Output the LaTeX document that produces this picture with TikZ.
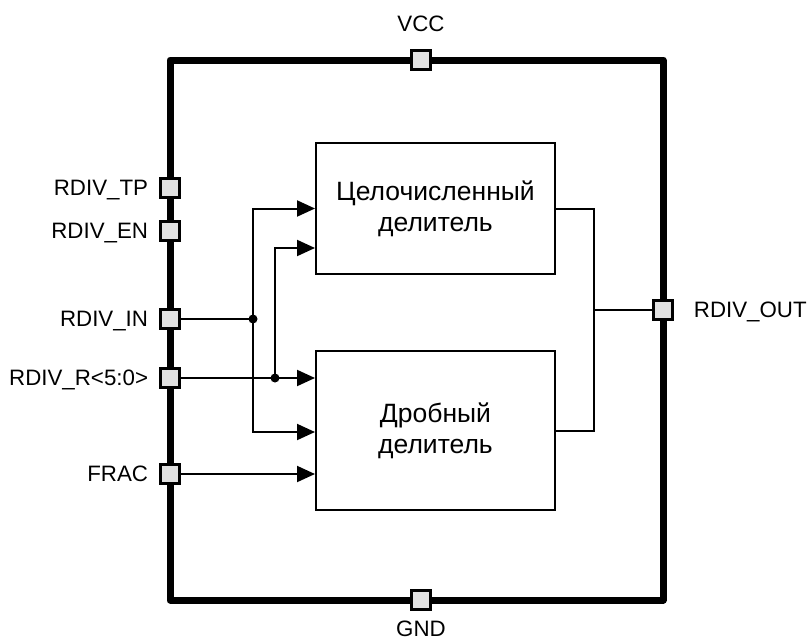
\documentclass[tikz,border=0pt]{standalone}
\usepackage{fontspec}
\setmainfont{Liberation Sans}
\usetikzlibrary{arrows.meta,positioning}
\definecolor{padgray}{HTML}{E0E0E0}

\begin{document}
\begin{tikzpicture}[x=1pt,y=-1pt,>={Triangle[length=18pt,width=16pt]},
  pad/.style={draw,line width=2.5pt,fill=padgray,minimum size=19pt,inner sep=0pt},
  block/.style={draw,line width=2pt,minimum width=239pt,align=center,font=\fontsize{26.5}{31}\selectfont},
  lbl/.style={inner sep=0pt,text depth=0pt,font=\fontsize{22.3}{26}\selectfont},
  wire/.style={line width=2pt}]
  \useasboundingbox (0,0) rectangle (809,640);
  \draw[line width=7pt,line join=round] (170,60) rectangle (663,600);

  \node[pad] (vcc) at (421,60) {};
  \node[pad] (gnd) at (421,600) {};
  \node[pad] (tp) at (170,188) {};
  \node[pad] (en) at (170,231) {};
  \node[pad] (in) at (170,319) {};
  \node[pad] (rr) at (170,378) {};
  \node[pad] (frac) at (170,474) {};
  \node[pad] (out) at (663,310) {};

  \node[lbl,above=18pt of vcc] (vcclbl) {VCC};
  \node[lbl,below=10pt of gnd] (gndlbl) {GND};
  \node[lbl,left=11pt of tp] (tplbl) {RDIV\_TP};
  \node[lbl,left=11pt of en] (enlbl) {RDIV\_EN};
  \node[lbl,left=11pt of in] (inlbl) {RDIV\_IN};
  \node[lbl,left=11pt of rr] (rrlbl) {RDIV\_R<5:0>};
  \node[lbl,left=11pt of frac] (fraclbl) {FRAC};
  \node[lbl,right=20pt of out] (outlbl) {RDIV\_OUT};

  \node[block,minimum height=131pt] (intdiv) at (435.5,208.5) {Целочисленный\\делитель};
  \node[block,minimum height=159pt] (fracdiv) at (435.5,430.5) {Дробный\\делитель};

  \coordinate (j1) at (253,319);
  \coordinate (j2) at (275,378);
  \coordinate (j3) at (594,310);

  \draw[wire] (in) -- (j1);
  \draw[wire,->] (j1) |- (intdiv.west);
  \draw[wire,->] (j1) |- ([yshift=-1.5pt]fracdiv.west);
  \draw[wire,->] (rr) -- (rr -| fracdiv.west);
  \draw[wire,->] (j2) |- ([yshift=-39.5pt]intdiv.west);
  \draw[wire,->] (frac) -- (frac -| fracdiv.west);
  \fill (j1) circle (4.5pt);
  \fill (j2) circle (4.5pt);

  \draw[wire] (intdiv.east) -| (j3);
  \draw[wire] (fracdiv.east) -| (j3);
  \draw[wire] (j3) -- (out);
\end{tikzpicture}
\end{document}
